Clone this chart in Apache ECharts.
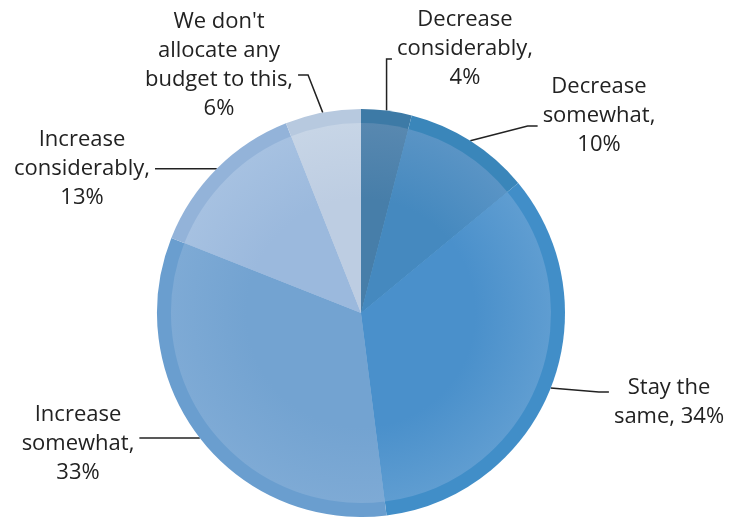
<!DOCTYPE html>
<html>
<head>
<meta charset="utf-8">
<script src="https://cdn.jsdelivr.net/npm/echarts@6/dist/echarts.min.js"></script>
<style>
  html, body { margin: 0; padding: 0; background: #ffffff; }
  #chart { width: 731px; height: 517px; }
</style>
</head>
<body>
<div id="chart"></div>
<script>
// Budget outlook shares (percent), clockwise from 12 o'clock
const categories = [
  'Decrease considerably',
  'Decrease somewhat',
  'Stay the same',
  'Increase somewhat',
  'Increase considerably',
  "We don't allocate any budget to this"
];
const values = [4, 10, 34, 33, 13, 6];

// How each label wraps; {v} is replaced with the slice value
const labelTemplates = [
  'Decrease\nconsiderably,\n{v}%',
  'Decrease\nsomewhat,\n{v}%',
  'Stay the\nsame, {v}%',
  'Increase\nsomewhat,\n{v}%',
  'Increase\nconsiderably,\n{v}%',
  "We don't\nallocate any\nbudget to this,\n{v}%"
];

// Where each label block is centred
const labelCenters = [[465, 49], [599, 116], [669, 402], [78, 444], [82, 169], [219, 65]];

// Slice palette: rim colour, inner centre colour, inner edge colour
const rimColors   = ['#3d7aa6', '#3a86ba', '#418ec8', '#6a9ecf', '#93b3d9', '#b7c9df'];
const innerDark   = ['#477ea9', '#4589bf', '#4a90cb', '#73a3d1', '#9bb9dd', '#bdcde2'];
const innerLight  = ['#5888b0', '#5a94c5', '#5f9dd1', '#7eaad5', '#a6c1e1', '#c7d5e6'];

const CX = 361, CY = 313, R = 204, R_INNER = 190;

const chart = echarts.init(document.getElementById('chart'), null, { renderer: 'canvas' });

const rimData = categories.map((name, i) => ({
  name, value: values[i],
  itemStyle: { color: rimColors[i] }
}));

const innerData = categories.map((name, i) => ({
  name, value: values[i],
  itemStyle: {
    color: {
      type: 'radial', x: CX, y: CY, r: R_INNER, global: true,
      colorStops: [
        { offset: 0, color: innerDark[i] },
        { offset: 0.6, color: innerDark[i] },
        { offset: 1, color: innerLight[i] }
      ]
    }
  }
}));

chart.setOption({
  animation: false,
  backgroundColor: '#ffffff',
  series: [
    {
      type: 'pie',
      center: [CX, CY],
      radius: [0, R],
      startAngle: 90,
      clockwise: true,
      avoidLabelOverlap: false,
      itemStyle: { borderWidth: 0 },
      emphasis: { disabled: true },
      label: {
        show: true,
        position: 'outside',
        fontFamily: 'Open Sans',
        fontSize: 22,
        lineHeight: 29,
        color: '#222222',
        align: 'center',
        formatter: p => labelTemplates[p.dataIndex].replace('{v}', p.value)
      },
      labelLine: {
        show: true,
        length: 10,
        length2: 10,
        lineStyle: { color: '#222222', width: 1.5 }
      },
      // Leader lines: from the slice's rim to the near side of its label,
      // finishing with a short horizontal run level with the rim point when possible
      labelLayout: function (params) {
        const i = params.dataIndex;
        const [lx, ly] = labelCenters[i];
        const w = params.labelRect.width;
        const p0 = params.labelLinePoints ? params.labelLinePoints[0] : [CX, CY];
        const onRight = lx > p0[0];
        const edgeX = onRight ? lx - w / 2 - 5 : lx + w / 2 + 5;
        const endY = Math.max(ly - 10, Math.min(ly + 10, p0[1]));
        const dir = onRight ? 1 : -1;
        const elbowLen = Math.min(10, Math.abs(edgeX - p0[0]));
        const elbow = [edgeX - dir * elbowLen, endY];
        return {
          x: lx, y: ly,
          align: 'center', verticalAlign: 'middle',
          labelLinePoints: [p0, elbow, [edgeX, endY]]
        };
      },
      data: rimData
    },
    {
      type: 'pie',
      center: [CX, CY],
      radius: [0, R_INNER],
      startAngle: 90,
      clockwise: true,
      silent: true,
      z: 3,
      itemStyle: { borderWidth: 0 },
      label: { show: false },
      labelLine: { show: false },
      data: innerData
    }
  ]
});
</script>
</body>
</html>
